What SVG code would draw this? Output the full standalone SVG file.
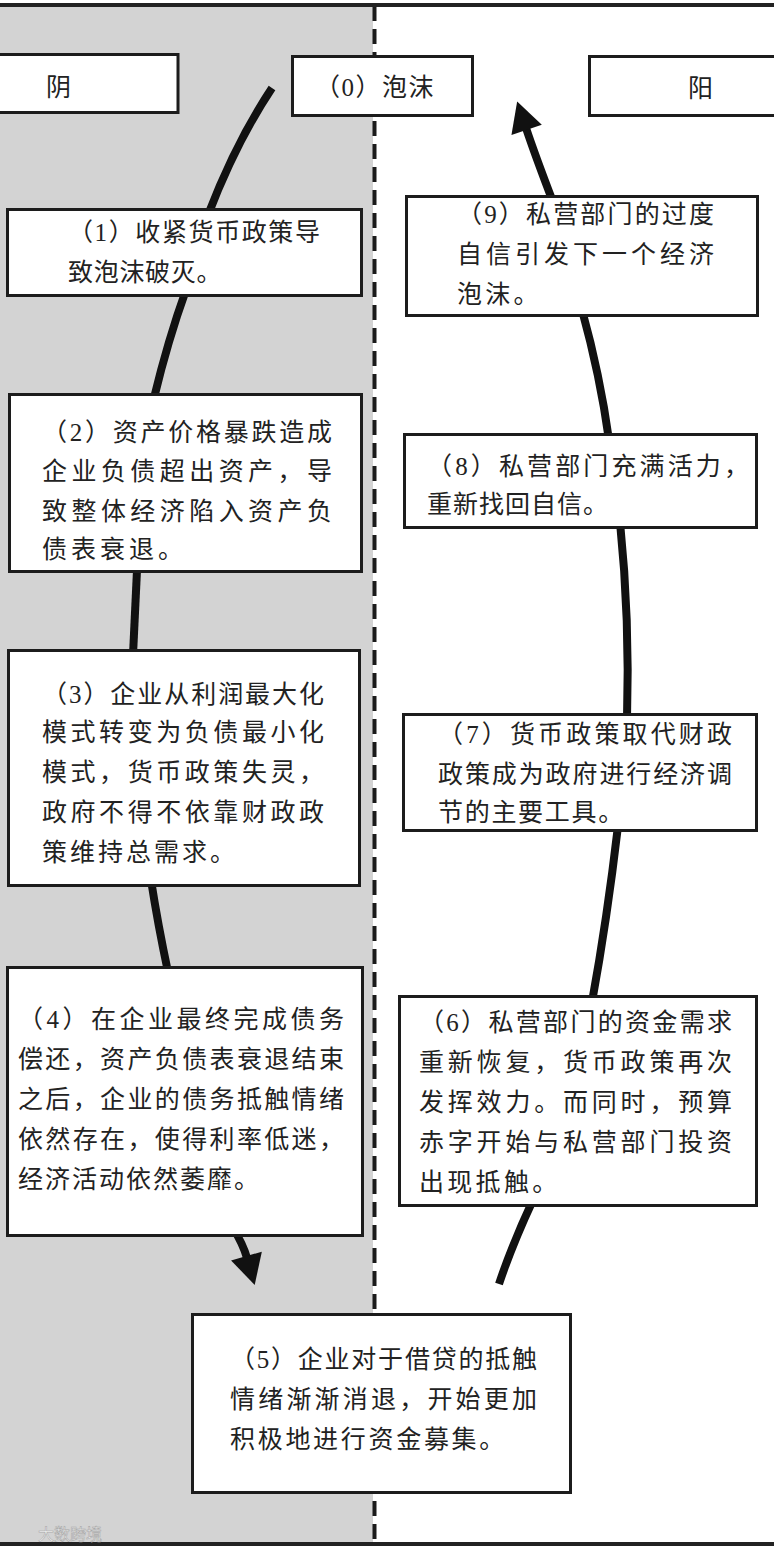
<svg xmlns="http://www.w3.org/2000/svg" width="774" height="1550" viewBox="0 0 774 1550">
<style>
.box{fill:#fff;stroke:#1c1c1c;stroke-width:3}
.t{font-family:"Noto Sans CJK SC","Noto Sans CJK JP",sans-serif;font-size:25px;fill:#222}
.d{font-family:"Liberation Serif",serif}
.conn{fill:none;stroke:#111;stroke-width:8;stroke-linecap:butt}
.wm{font-family:"Noto Sans CJK SC",sans-serif;font-size:16px;fill:#f4f4f4;stroke:#a8a8a8;stroke-width:0.6}
</style>
<defs>
<marker id="ah" markerUnits="userSpaceOnUse" markerWidth="40" markerHeight="40" viewBox="-4 -20 40 40" refX="0" refY="0" orient="auto">
<path d="M-2,-16 L28,0 L-2,16 Z" fill="#111"/>
</marker>
</defs>
<rect x="0" y="0" width="774" height="1550" fill="#fff"/>
<rect x="0" y="6" width="373" height="1537" fill="#d3d3d3"/>
<line x1="374.5" y1="6" x2="374.5" y2="1543" stroke="#1a1a1a" stroke-width="4" stroke-dasharray="15 8"/>
<rect x="0" y="3" width="774" height="4" fill="#222"/>
<rect x="0" y="1542" width="774" height="4" fill="#222"/>
<text class="wm" x="38" y="1540">大数跨境</text>
<g id="connectors">
<path class="conn" d="M272,88 Q236,142 208,215"/>
<path class="conn" d="M186,290 Q168,340 154,398"/>
<path class="conn" d="M137,570 L133,655"/>
<path class="conn" d="M151,880 Q158,925 168,972"/>
<path class="conn" d="M233,1228 Q243,1244 247,1258" marker-end="url(#ah)"/>
<path class="conn" d="M499,1284 Q512,1245 533,1200"/>
<path class="conn" d="M592,1002 Q607,920 618,826"/>
<path class="conn" d="M627,720 Q630,620 620,522"/>
<path class="conn" d="M609,440 Q600,375 582,310"/>
<path class="conn" d="M553,202 Q535,155 526,128" marker-end="url(#ah)"/>
</g>
<g id="yin">
<rect class="box" x="-3" y="54.5" width="181" height="58"/>
<text class="t" x="46" y="96">阴</text>
</g>
<g id="yang">
<rect class="box" x="589.5" y="56.5" width="190" height="59"/>
<text class="t" x="688" y="97">阳</text>
</g>
<g id="n0">
<rect class="box" x="292.5" y="56.5" width="180" height="59"/>
<text class="t" x="315" y="96" letter-spacing="1.5">（<tspan class="d">0</tspan>）泡沫</text>
</g>
<g id="n1">
<rect class="box" x="7.5" y="209.5" width="354" height="86"/>
<text class="t" x="68" y="241" textLength="252" lengthAdjust="spacing">（<tspan class="d">1</tspan>）收紧货币政策导</text>
<text class="t" x="68" y="281" letter-spacing="0.7">致泡沫破灭。</text>
</g>
<g id="n2">
<rect class="box" x="9.5" y="394.5" width="352" height="177"/>
<text class="t" x="42" y="441" textLength="290" lengthAdjust="spacing">（<tspan class="d">2</tspan>）资产价格暴跌造成</text>
<text class="t" x="42" y="480" textLength="290" lengthAdjust="spacing">企业负债超出资产，导</text>
<text class="t" x="42" y="520" textLength="290" lengthAdjust="spacing">致整体经济陷入资产负</text>
<text class="t" x="42" y="558" letter-spacing="4">债表衰退。</text>
</g>
<g id="n3">
<rect class="box" x="8.5" y="650.5" width="351" height="235"/>
<text class="t" x="42" y="703" textLength="282" lengthAdjust="spacing">（<tspan class="d">3</tspan>）企业从利润最大化</text>
<text class="t" x="42" y="741" textLength="282" lengthAdjust="spacing">模式转变为负债最小化</text>
<text class="t" x="42" y="781" textLength="282" lengthAdjust="spacing">模式，货币政策失灵，</text>
<text class="t" x="42" y="821" textLength="282" lengthAdjust="spacing">政府不得不依靠财政政</text>
<text class="t" x="42" y="861" letter-spacing="3">策维持总需求。</text>
</g>
<g id="n4">
<rect class="box" x="7.5" y="967.5" width="355" height="268"/>
<text class="t" x="18" y="1028" textLength="326" lengthAdjust="spacing">（<tspan class="d">4</tspan>）在企业最终完成债务</text>
<text class="t" x="18" y="1068" textLength="326" lengthAdjust="spacing">偿还，资产负债表衰退结束</text>
<text class="t" x="18" y="1108" textLength="326" lengthAdjust="spacing">之后，企业的债务抵触情绪</text>
<text class="t" x="18" y="1148" textLength="326" lengthAdjust="spacing">依然存在，使得利率低迷，</text>
<text class="t" x="18" y="1188" letter-spacing="2">经济活动依然萎靡。</text>
</g>
<g id="n5">
<rect class="box" x="192.5" y="1314.5" width="378" height="178"/>
<text class="t" x="230" y="1368" textLength="307" lengthAdjust="spacing">（<tspan class="d">5</tspan>）企业对于借贷的抵触</text>
<text class="t" x="230" y="1408" textLength="307" lengthAdjust="spacing">情绪渐渐消退，开始更加</text>
<text class="t" x="230" y="1448" letter-spacing="2.7">积极地进行资金募集。</text>
</g>
<g id="n6">
<rect class="box" x="399.5" y="996.5" width="357" height="209"/>
<text class="t" x="419" y="1031" textLength="313" lengthAdjust="spacing">（<tspan class="d">6</tspan>）私营部门的资金需求</text>
<text class="t" x="419" y="1071" textLength="313" lengthAdjust="spacing">重新恢复，货币政策再次</text>
<text class="t" x="419" y="1111" textLength="313" lengthAdjust="spacing">发挥效力。而同时，预算</text>
<text class="t" x="419" y="1151" textLength="313" lengthAdjust="spacing">赤字开始与私营部门投资</text>
<text class="t" x="419" y="1191" letter-spacing="3.3">出现抵触。</text>
</g>
<g id="n7">
<rect class="box" x="403.5" y="714.5" width="353" height="116"/>
<text class="t" x="438" y="743" textLength="294" lengthAdjust="spacing">（<tspan class="d">7</tspan>）货币政策取代财政</text>
<text class="t" x="438" y="783" textLength="294" lengthAdjust="spacing">政策成为政府进行经济调</text>
<text class="t" x="438" y="821" letter-spacing="1.7">节的主要工具。</text>
</g>
<g id="n8">
<rect class="box" x="404.5" y="434.5" width="352" height="93"/>
<text class="t" x="427" y="475" textLength="322" lengthAdjust="spacing">（<tspan class="d">8</tspan>）私营部门充满活力，</text>
<text class="t" x="427" y="513" letter-spacing="1">重新找回自信。</text>
</g>
<g id="n9">
<rect class="box" x="406.5" y="196.5" width="351" height="119"/>
<text class="t" x="457" y="223" textLength="257" lengthAdjust="spacing">（<tspan class="d">9</tspan>）私营部门的过度</text>
<text class="t" x="457" y="263" textLength="257" lengthAdjust="spacing">自信引发下一个经济</text>
<text class="t" x="457" y="303" letter-spacing="3.3">泡沫。</text>
</g>
</svg>
